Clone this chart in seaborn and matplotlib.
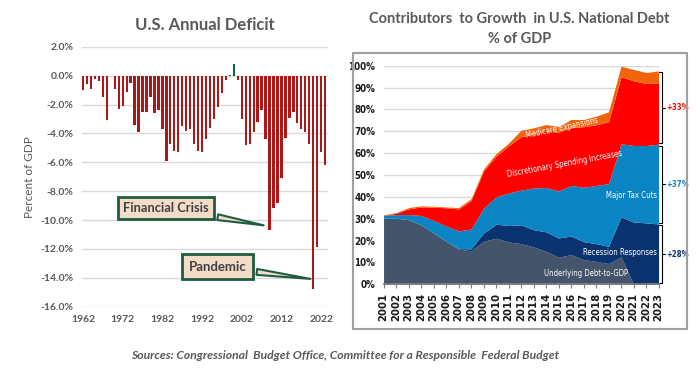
import numpy as np
import pandas as pd
import matplotlib
matplotlib.use("Agg")
import matplotlib.pyplot as plt
import seaborn as sns
from matplotlib.patches import Rectangle
from matplotlib import font_manager
from matplotlib.font_manager import FontProperties

## data: annual deficit (% of GDP), 1962-2023
years = list(range(1962, 2024))
deficit = [-1.0, -0.6, -0.9, -0.2, -0.4, -1.5, -3.1, 0.0,
           -0.9, -2.3, -2.1, -1.1, -0.5, -3.4, -3.9, -2.5, -2.5, -1.5,
           -2.6, -2.4, -3.7, -5.9, -4.7, -5.2, -5.3, -3.5, -3.8, -3.7,
           -4.7, -5.2, -5.3, -4.4, -3.6, -3.0, -2.2, -1.2, -0.3, 0.05,
           0.8, -0.3, -3.0, -4.8, -4.7, -3.9, -3.2, -2.4, -4.4, -10.7,
           -9.2, -8.8, -7.1, -4.3, -2.9, -2.5, -3.3, -3.7, -3.9, -4.7,
           -14.8, -11.9, -5.3, -6.2]

## data: contributors to debt growth (% of GDP), 2001-2023
debt_years = list(range(2001, 2024))
underlying = [30.2, 30.2, 29.6, 27.2, 23.5, 19.7, 16.2, 15.3, 19.7, 21.1, 19.4, 18.6,
              17.1, 15.1, 12.4, 13.6, 11.3, 10.5, 9.5, 12.5, 0.0, 0.0, 0.0]
recession = [0.0, 0.0, 0.0, 0.0, 0.0, 0.0, 0.2, 0.9, 3.8, 6.4, 7.5, 8.6,
             7.9, 8.9, 8.8, 8.5, 8.2, 8.1, 7.9, 18.3, 28.5, 28.1, 27.6]
tax_cuts = [1.3, 1.7, 2.3, 4.3, 5.7, 7.0, 8.0, 9.1, 11.3, 12.5, 14.9, 15.9,
            19.1, 20.3, 21.5, 23.1, 24.9, 26.6, 28.7, 33.5, 35.0, 35.4, 36.5]
discretionary = [0.0, 0.6, 2.6, 3.9, 6.1, 8.3, 10.1, 13.0, 17.0, 18.6, 21.6, 24.4,
                 24.6, 25.8, 26.9, 26.4, 27.7, 27.8, 28.3, 30.7, 29.6, 28.4, 28.1]
medicare = [0.3, 0.3, 0.6, 0.5, 0.4, 0.4, 0.6, 0.9, 1.0, 1.2, 1.2, 3.0,
            2.9, 3.0, 2.6, 3.8, 3.3, 3.9, 4.5, 4.8, 5.2, 5.0, 5.4]
layer_names = ["Underlying Debt-to-GDP", "Recession Responses", "Major Tax Cuts",
               "Discretionary Spending Increases", "Medicare Expansions"]
bracket_labels = ['+28%', '+37%', '+33%']

## global settings
sns.set_theme(style="white")
plt.rcParams['font.family'] = ['Lato', 'DejaVu Sans']
grey = '#595959'

# look for a narrow face for the small labels (Calibri-like condensed look)
def narrow_font(bold=False):
    best = None
    for f in font_manager.fontManager.ttflist:
        is_narrow = 'Narrow' in f.name or 'Condensed' in f.name or f.stretch in ('condensed', 'semi-condensed', 600, 700)
        if not is_narrow or f.style != 'normal':
            continue
        w = f.weight if isinstance(f.weight, int) else {'normal': 400, 'regular': 400, 'bold': 700}.get(f.weight, 400)
        if (w >= 700) != bold:
            continue
        rank = 0 if 'Liberation' in f.name else (1 if 'DejaVu' in f.name else 2)
        if best is None or rank < best[0]:
            best = (rank, f.fname)
    if best is None:
        return FontProperties(family='Roboto', weight='bold' if bold else 'normal')
    return FontProperties(fname=best[1])

nf = narrow_font(False)
nfb = narrow_font(True)

fig = plt.figure(figsize=(7.0, 3.74), dpi=100)

## LEFT: annual deficit bars
ax1 = fig.add_axes([0.1167, 0.18, 0.3523, 0.695])
df = pd.DataFrame({'year': years, 'deficit': deficit})
df['kind'] = np.where(df['deficit'] > 0, 'surplus', 'deficit')
sns.barplot(data=df, x='year', y='deficit', hue='kind',
            palette={'deficit': '#c40000', 'surplus': '#00704a'},
            dodge=False, width=0.58, legend=False, linewidth=0, ax=ax1)
ax1.set_ylim(-16, 2)
ax1.set_xlim(-0.33, 61.8)
ax1.set_yticks(np.arange(-16, 2.1, 2))
ax1.set_yticklabels([f'{v:.1f}%' for v in np.arange(-16, 2.1, 2)])
ax1.set_xticks(range(0, len(years), 10))
ax1.set_xticklabels([str(y) for y in years[::10]])
ax1.tick_params(axis='both', labelsize=7.5, labelcolor=grey, length=0, pad=6)
for lab in ax1.get_xticklabels() + ax1.get_yticklabels():
    lab.set_fontweight('bold')
ax1.yaxis.grid(True, color='#d9d9d9', lw=1)
ax1.set_axisbelow(True)
sns.despine(ax=ax1, left=True, bottom=True)
ax1.set_xlabel('')
ax1.set_ylabel('Percent of GDP', fontsize=8.5, color=grey, labelpad=4)
ax1.set_title('U.S. Annual Deficit', fontsize=12, fontweight='bold', color=grey, pad=12)

## callouts
wedge = dict(arrowstyle='wedge,tail_width=0.45,shrink_factor=0.5', fc='#f2dcc8', ec='#1f5c3f', lw=1.5)
i09 = years.index(2009)
ax1.annotate('Financial Crisis', xy=(i09 - 0.8, deficit[i09] + 0.3), xytext=(20.9, -9.17),
             ha='center', va='center', fontsize=9.3, fontweight='bold', color='#404040',
             bbox=dict(boxstyle='square,pad=0.4', fc='#f2dcc8', ec='#1f5c3f', lw=2),
             arrowprops=wedge)
i20 = years.index(2020)
ax1.annotate('Pandemic', xy=(i20, deficit[i20] + 0.7), xytext=(33.9, -13.24),
             ha='center', va='center', fontsize=9.5, fontweight='bold', color='#404040',
             bbox=dict(boxstyle='square,pad=0.5', fc='#f2dcc8', ec='#1f5c3f', lw=2),
             arrowprops=wedge)

## RIGHT: stacked contributors
fig.add_artist(Rectangle((0.5043, 0.1203), 0.477, 0.738, transform=fig.transFigure,
                         fill=False, ec='#a0a0a0', lw=1.5))
ax2 = fig.add_axes([0.5479, 0.2398, 0.3929, 0.5845])
colors = ['#44546a', '#0a3370', '#0b84c4', '#ff0000', '#f0640a']
ax2.stackplot(debt_years, underlying, recession, tax_cuts, discretionary, medicare,
              colors=colors, labels=layer_names, lw=0, zorder=2)
ax2.set_xlim(2001, 2023)
ax2.set_ylim(0, 100)
ax2.set_yticks(range(0, 101, 10))
ax2.set_yticklabels([f'{v}%' for v in range(0, 101, 10)])
ax2.set_xticks(debt_years)
ax2.set_xticklabels([str(y) for y in debt_years], rotation=90)
ax2.tick_params(axis='y', length=0, pad=6, labelcolor='#1a1a1a')
ax2.tick_params(axis='x', labelsize=7.3, length=3, width=0.8, color='#7f7f7f',
                direction='out', bottom=True, pad=3, labelcolor='#1a1a1a')
for lab in ax2.get_yticklabels():
    lab.set_fontproperties(nfb)
    lab.set_fontsize(7)
for lab in ax2.get_xticklabels():
    lab.set_fontweight('heavy')
    lab.set_family(['DejaVu Sans'])
ax2.yaxis.grid(True, color='#d9d9d9', lw=1, zorder=0)
ax2.set_axisbelow(True)
sns.despine(ax=ax2, left=True)
ax2.spines['bottom'].set_color('#7f7f7f')
fig.text(0.742, 0.922, 'Contributors  to Growth  in U.S. National Debt\n% of GDP',
         ha='center', va='center', fontsize=10.5, fontweight='bold', color=grey, linespacing=1.6)

## area labels
def area_label(x, y, s, rot=0, ha='center'):
    t = ax2.text(x, y, s, rotation=rot, color='white', ha=ha, va='center',
                 fontproperties=nf, rotation_mode='anchor')
    t.set_fontsize(5.6)
area_label(2015.3, 71.6, layer_names[4], 12)
area_label(2015.5, 55.0, layer_names[3], 10.5)
area_label(2022.85, 40.5, layer_names[2], ha='right')
area_label(2022.85, 14.5, layer_names[1], ha='right')
area_label(2017.2, 5.1, layer_names[0])

## brackets on the right of the 2023 stack
stack = np.vstack([underlying, recession, tax_cuts, discretionary, medicare]).cumsum(axis=0)
spans = [(0, stack[1][-1], '#0a3370'),
         (stack[1][-1], stack[2][-1], '#0b84c4'),
         (stack[2][-1], stack[4][-1], '#ff0000')]
for (lo, hi, c), txt in zip(spans, bracket_labels):
    lo2, hi2 = lo + 0.6, hi - 0.6
    ax2.plot([2023.05, 2023.27, 2023.27, 2023.05], [lo2, lo2, hi2, hi2],
             color='black', lw=0.8, clip_on=False)
    mid = (lo2 + hi2) / 2
    ax2.plot([2023.27, 2023.55], [mid, mid], color='black', lw=0.8, clip_on=False)
    t = ax2.text(2023.62, mid, txt, color=c, va='center', ha='left', fontproperties=nfb)
    t.set_fontsize(5.6)

## sources
fig.text(0.493, 0.05, 'Sources: Congressional  Budget Office, Committee for a Responsible  Federal Budget',
         ha='center', va='center', fontsize=8.7, fontweight='bold', style='italic', color=grey)

fig.savefig('out.png', dpi=100)
